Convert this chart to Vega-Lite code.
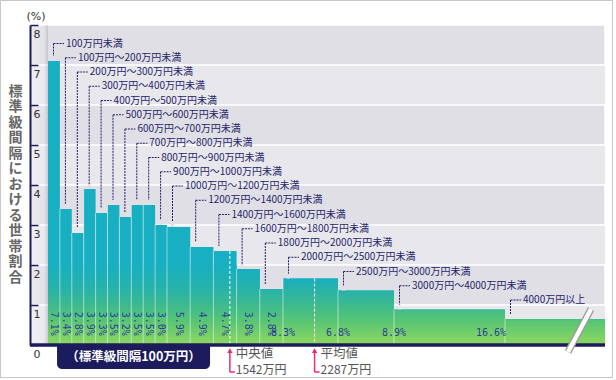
{
  "$schema": "https://vega.github.io/schema/vega-lite/v6.json",
  "width": 613,
  "height": 378,
  "autosize": {"type": "none"},
  "padding": 0,
  "background": "white",
  "config": {"view": {"stroke": "#c8c8c8", "strokeWidth": 2}},
  "data": {"values": [
    {"label": "100万円未満", "lo": 0, "hi": 100, "h": 7.1, "pct": "7.1%"},
    {"label": "100万円～200万円未満", "lo": 100, "hi": 200, "h": 3.4, "pct": "3.4%"},
    {"label": "200万円～300万円未満", "lo": 200, "hi": 300, "h": 2.8, "pct": "2.8%"},
    {"label": "300万円～400万円未満", "lo": 300, "hi": 400, "h": 3.9, "pct": "3.9%"},
    {"label": "400万円～500万円未満", "lo": 400, "hi": 500, "h": 3.3, "pct": "3.3%"},
    {"label": "500万円～600万円未満", "lo": 500, "hi": 600, "h": 3.5, "pct": "3.5%"},
    {"label": "600万円～700万円未満", "lo": 600, "hi": 700, "h": 3.2, "pct": "3.2%"},
    {"label": "700万円～800万円未満", "lo": 700, "hi": 800, "h": 3.5, "pct": "3.5%"},
    {"label": "800万円～900万円未満", "lo": 800, "hi": 900, "h": 3.5, "pct": "3.5%"},
    {"label": "900万円～1000万円未満", "lo": 900, "hi": 1000, "h": 3.0, "pct": "3.0%"},
    {"label": "1000万円～1200万円未満", "lo": 1000, "hi": 1200, "h": 2.95, "pct": "5.9%"},
    {"label": "1200万円～1400万円未満", "lo": 1200, "hi": 1400, "h": 2.45, "pct": "4.9%"},
    {"label": "1400万円～1600万円未満", "lo": 1400, "hi": 1600, "h": 2.35, "pct": "4.7%"},
    {"label": "1600万円～1800万円未満", "lo": 1600, "hi": 1800, "h": 1.9, "pct": "3.8%"},
    {"label": "1800万円～2000万円未満", "lo": 1800, "hi": 2000, "h": 1.4, "pct": "2.8%"},
    {"label": "2000万円～2500万円未満", "lo": 2000, "hi": 2500, "h": 1.66, "pct": "8.3%"},
    {"label": "2500万円～3000万円未満", "lo": 2500, "hi": 3000, "h": 1.36, "pct": "6.8%"},
    {"label": "3000万円～4000万円未満", "lo": 3000, "hi": 4000, "h": 0.89, "pct": "8.9%"},
    {"label": "4000万円以上", "lo": 4000, "hi": 4900, "h": 0.65, "pct": "16.6%"}
  ]},
  "transform": [{"window": [{"op": "row_number", "as": "i"}]}],
  "resolve": {"scale": {"y": "independent"}},
  "layer": [
    {
      "data": {"values": [{}]},
      "mark": {"type": "rect", "fill": "#e8e7ec"},
      "encoding": {
        "x": {"datum": -150, "type": "quantitative", "scale": {"domain": [-150, 0, 1000, 2000, 2500, 3000, 4000, 4900], "range": [30, 48, 167, 283, 338, 394, 505, 605], "nice": false, "zero": false}, "axis": null},
        "x2": {"datum": 4900},
        "y": {"datum": 0, "type": "quantitative", "scale": {"domain": [0, 8], "range": [345, 25], "nice": false, "zero": false},
          "axis": {"values": [0, 1, 2, 3, 4, 5, 6, 7, 8], "format": "d", "offset": -30, "zindex": 1, "grid": false,
            "domainColor": "#1c1c5c", "domainWidth": 2, "tickColor": "#1c1c5c", "tickSize": -8, "tickWidth": 1.5,
            "labelAlign": "left", "labelBaseline": "top", "labelPadding": 5, "labelOffset": 3, "labelFont": "DejaVu Sans", "labelFontSize": 11, "labelColor": "#333333", "labelOverlap": false, "labelFlush": false, "labelBound": false,
            "title": ["標", "準", "級", "間", "隔", "に", "お", "け", "る", "世", "帯", "割", "合"],
            "titleAngle": 0, "titleX": -15, "titleY": 91, "titleAlign": "center", "titleBaseline": "middle",
            "titleFont": "Noto Sans CJK JP", "titleFontSize": 14, "titleFontWeight": "bold", "titleColor": "#666666", "titleLineHeight": 15.5}},
        "y2": {"datum": 8}
      }
    },
    {
      "data": {"values": [{}]},
      "mark": {"type": "rect", "fill": "#e0dfe5", "stroke": "white", "strokeWidth": 1.5},
      "encoding": {
        "x": {"datum": -150, "type": "quantitative", "scale": {"domain": [-150, 0, 1000, 2000, 2500, 3000, 4000, 4900], "range": [30, 48, 167, 283, 338, 394, 505, 605], "nice": false, "zero": false}, "axis": null},
        "x2": {"datum": 4900},
        "y": {"datum": 1, "type": "quantitative", "scale": {"domain": [0, 8], "range": [345, 25], "nice": false, "zero": false}, "axis": null},
        "y2": {"datum": 2}
      }
    },
    {
      "data": {"values": [{}]},
      "mark": {"type": "rect", "fill": "#e0dfe5", "stroke": "white", "strokeWidth": 1.5},
      "encoding": {
        "x": {"datum": -150, "type": "quantitative", "scale": {"domain": [-150, 0, 1000, 2000, 2500, 3000, 4000, 4900], "range": [30, 48, 167, 283, 338, 394, 505, 605], "nice": false, "zero": false}, "axis": null},
        "x2": {"datum": 4900},
        "y": {"datum": 3, "type": "quantitative", "scale": {"domain": [0, 8], "range": [345, 25], "nice": false, "zero": false}, "axis": null},
        "y2": {"datum": 4}
      }
    },
    {
      "data": {"values": [{}]},
      "mark": {"type": "rect", "fill": "#e0dfe5", "stroke": "white", "strokeWidth": 1.5},
      "encoding": {
        "x": {"datum": -150, "type": "quantitative", "scale": {"domain": [-150, 0, 1000, 2000, 2500, 3000, 4000, 4900], "range": [30, 48, 167, 283, 338, 394, 505, 605], "nice": false, "zero": false}, "axis": null},
        "x2": {"datum": 4900},
        "y": {"datum": 5, "type": "quantitative", "scale": {"domain": [0, 8], "range": [345, 25], "nice": false, "zero": false}, "axis": null},
        "y2": {"datum": 6}
      }
    },
    {
      "data": {"values": [{}]},
      "mark": {"type": "rect", "fill": "#e0dfe5", "stroke": "white", "strokeWidth": 1.5},
      "encoding": {
        "x": {"datum": -150, "type": "quantitative", "scale": {"domain": [-150, 0, 1000, 2000, 2500, 3000, 4000, 4900], "range": [30, 48, 167, 283, 338, 394, 505, 605], "nice": false, "zero": false}, "axis": null},
        "x2": {"datum": 4900},
        "y": {"datum": 7, "type": "quantitative", "scale": {"domain": [0, 8], "range": [345, 25], "nice": false, "zero": false}, "axis": null},
        "y2": {"datum": 8}
      }
    },
    {
      "data": {"values": [{}]},
      "mark": {"type": "rect", "fill": {"gradient": "linear", "x1": 0, "y1": 0, "x2": 1, "y2": 0, "stops": [{"offset": 0, "color": "rgba(255,255,255,0.35)"}, {"offset": 0.72, "color": "rgba(255,255,255,0.12)"}, {"offset": 1, "color": "rgba(140,140,160,0.35)"}]}},
      "encoding": {
        "x": {"datum": -150, "type": "quantitative", "scale": {"domain": [-150, 0, 1000, 2000, 2500, 3000, 4000, 4900], "range": [30, 48, 167, 283, 338, 394, 505, 605], "nice": false, "zero": false}, "axis": null},
        "x2": {"datum": 0},
        "y": {"datum": 0, "type": "quantitative", "scale": {"domain": [0, 8], "range": [345, 25], "nice": false, "zero": false}, "axis": null},
        "y2": {"datum": 8}
      }
    },
    {
      "mark": {"type": "rule", "xOffset": 5.5, "stroke": "#1f1f6b", "strokeWidth": 1, "strokeDash": [2, 1]},
      "encoding": {
        "x": {"field": "lo", "type": "quantitative", "scale": {"domain": [-150, 0, 1000, 2000, 2500, 3000, 4000, 4900], "range": [30, 48, 167, 283, 338, 394, 505, 605], "nice": false, "zero": false}, "axis": null},
        "y": {"field": "i", "type": "quantitative", "scale": {"domain": [1, 19], "range": [43.5, 300], "nice": false, "zero": false}, "axis": null},
        "y2": {"datum": 21}
      }
    },
    {
      "mark": {"type": "rule", "xOffset": 5.5, "x2Offset": 16, "stroke": "#1f1f6b", "strokeWidth": 1, "strokeDash": [2, 1]},
      "encoding": {
        "x": {"field": "lo", "type": "quantitative", "scale": {"domain": [-150, 0, 1000, 2000, 2500, 3000, 4000, 4900], "range": [30, 48, 167, 283, 338, 394, 505, 605], "nice": false, "zero": false}, "axis": null},
        "x2": {"field": "lo"},
        "y": {"field": "i", "type": "quantitative", "scale": {"domain": [1, 19], "range": [43.5, 300], "nice": false, "zero": false}, "axis": null}
      }
    },
    {
      "mark": {"type": "text", "dx": 18, "align": "left", "baseline": "middle", "font": "Noto Sans CJK JP", "fontSize": 10, "fill": "#1f1f6b"},
      "encoding": {
        "x": {"field": "lo", "type": "quantitative", "scale": {"domain": [-150, 0, 1000, 2000, 2500, 3000, 4000, 4900], "range": [30, 48, 167, 283, 338, 394, 505, 605], "nice": false, "zero": false}, "axis": null},
        "y": {"field": "i", "type": "quantitative", "scale": {"domain": [1, 19], "range": [43.5, 300], "nice": false, "zero": false}, "axis": null},
        "text": {"field": "label"}
      }
    },
    {
      "mark": {"type": "rect", "fill": "#17afc1"},
      "encoding": {
        "x": {"field": "lo", "type": "quantitative", "scale": {"domain": [-150, 0, 1000, 2000, 2500, 3000, 4000, 4900], "range": [30, 48, 167, 283, 338, 394, 505, 605], "nice": false, "zero": false}, "axis": null},
        "x2": {"field": "hi"},
        "y": {"field": "h", "type": "quantitative", "scale": {"domain": [0, 8], "range": [345, 25], "nice": false, "zero": false}, "axis": null},
        "y2": {"datum": 0}
      }
    },
    {
      "mark": {"type": "rect", "fill": {"gradient": "linear", "x1": 0, "y1": 0, "x2": 0, "y2": 1, "stops": [{"offset": 0, "color": "#17afc1"}, {"offset": 1, "color": "#27b2a9"}]}},
      "encoding": {
        "x": {"field": "lo", "type": "quantitative", "scale": {"domain": [-150, 0, 1000, 2000, 2500, 3000, 4000, 4900], "range": [30, 48, 167, 283, 338, 394, 505, 605], "nice": false, "zero": false}, "axis": null},
        "x2": {"field": "hi"},
        "y": {"field": "h", "type": "quantitative", "scale": {"domain": [1.4, 2.0], "range": [289, 265], "clamp": true, "nice": false, "zero": false}, "axis": null},
        "y2": {"datum": 0}
      }
    },
    {
      "mark": {"type": "rect", "fill": {"gradient": "linear", "x1": 0, "y1": 0, "x2": 0, "y2": 1, "stops": [{"offset": 0, "color": "#27b2a9"}, {"offset": 1, "color": "#43bd88"}]}},
      "encoding": {
        "x": {"field": "lo", "type": "quantitative", "scale": {"domain": [-150, 0, 1000, 2000, 2500, 3000, 4000, 4900], "range": [30, 48, 167, 283, 338, 394, 505, 605], "nice": false, "zero": false}, "axis": null},
        "x2": {"field": "hi"},
        "y": {"field": "h", "type": "quantitative", "scale": {"domain": [0.9, 1.4], "range": [309, 289], "clamp": true, "nice": false, "zero": false}, "axis": null},
        "y2": {"datum": 0}
      }
    },
    {
      "mark": {"type": "rect", "fill": {"gradient": "linear", "x1": 0, "y1": 0, "x2": 0, "y2": 1, "stops": [{"offset": 0, "color": "#43bd88"}, {"offset": 1, "color": "#58c574"}]}},
      "encoding": {
        "x": {"field": "lo", "type": "quantitative", "scale": {"domain": [-150, 0, 1000, 2000, 2500, 3000, 4000, 4900], "range": [30, 48, 167, 283, 338, 394, 505, 605], "nice": false, "zero": false}, "axis": null},
        "x2": {"field": "hi"},
        "y": {"field": "h", "type": "quantitative", "scale": {"domain": [0.6, 0.9], "range": [321, 309], "clamp": true, "nice": false, "zero": false}, "axis": null},
        "y2": {"datum": 0}
      }
    },
    {
      "mark": {"type": "rect", "fill": {"gradient": "linear", "x1": 0, "y1": 0, "x2": 0, "y2": 1, "stops": [{"offset": 0, "color": "#58c574"}, {"offset": 1, "color": "#8fd85e"}]}},
      "encoding": {
        "x": {"field": "lo", "type": "quantitative", "scale": {"domain": [-150, 0, 1000, 2000, 2500, 3000, 4000, 4900], "range": [30, 48, 167, 283, 338, 394, 505, 605], "nice": false, "zero": false}, "axis": null},
        "x2": {"field": "hi"},
        "y": {"field": "h", "type": "quantitative", "scale": {"domain": [0, 0.6], "range": [345, 321], "clamp": true, "nice": false, "zero": false}, "axis": null},
        "y2": {"datum": 0}
      }
    },
    {
      "transform": [{"filter": "datum.lo > 0"}],
      "mark": {"type": "rule", "stroke": "white", "strokeOpacity": 0.5, "strokeWidth": 1},
      "encoding": {
        "x": {"field": "lo", "type": "quantitative", "scale": {"domain": [-150, 0, 1000, 2000, 2500, 3000, 4000, 4900], "range": [30, 48, 167, 283, 338, 394, 505, 605], "nice": false, "zero": false}, "axis": null},
        "y": {"field": "h", "type": "quantitative", "scale": {"domain": [0, 8], "range": [345, 25], "nice": false, "zero": false}, "axis": null},
        "y2": {"datum": 0}
      }
    },
    {
      "mark": {"type": "rule", "xOffset": 5.5, "yOffset": -5, "strokeWidth": 3},
      "encoding": {
        "x": {"field": "lo", "type": "quantitative", "scale": {"domain": [-150, 0, 1000, 2000, 2500, 3000, 4000, 4900], "range": [30, 48, 167, 283, 338, 394, 505, 605], "nice": false, "zero": false}, "axis": null},
        "y": {"field": "h", "type": "quantitative", "scale": {"domain": [0, 8], "range": [345, 25], "nice": false, "zero": false}, "axis": null},
        "y2": {"field": "h"},
        "stroke": {"condition": {"test": "floor(datum.h + 0.07) % 2 == 1", "value": "#e0dfe5"}, "value": "#e8e7ec"}
      }
    },
    {
      "transform": [{"filter": "datum.hi - datum.lo == 100"}],
      "mark": {"type": "text", "angle": 90, "align": "left", "baseline": "middle", "xOffset": 5.95, "font": "DejaVu Sans Mono", "fontSize": 10, "fill": "#2e3d99"},
      "encoding": {
        "x": {"field": "lo", "type": "quantitative", "scale": {"domain": [-150, 0, 1000, 2000, 2500, 3000, 4000, 4900], "range": [30, 48, 167, 283, 338, 394, 505, 605], "nice": false, "zero": false}, "axis": null},
        "y": {"datum": 0.83, "type": "quantitative", "scale": {"domain": [0, 8], "range": [345, 25], "nice": false, "zero": false}, "axis": null},
        "text": {"field": "pct"}
      }
    },
    {
      "transform": [{"filter": "datum.hi - datum.lo == 200"}],
      "mark": {"type": "text", "angle": 90, "align": "left", "baseline": "middle", "xOffset": 11.6, "font": "DejaVu Sans Mono", "fontSize": 10, "fill": "#2e3d99"},
      "encoding": {
        "x": {"field": "lo", "type": "quantitative", "scale": {"domain": [-150, 0, 1000, 2000, 2500, 3000, 4000, 4900], "range": [30, 48, 167, 283, 338, 394, 505, 605], "nice": false, "zero": false}, "axis": null},
        "y": {"datum": 0.83, "type": "quantitative", "scale": {"domain": [0, 8], "range": [345, 25], "nice": false, "zero": false}, "axis": null},
        "text": {"field": "pct"}
      }
    },
    {
      "transform": [{"filter": "datum.hi - datum.lo > 200 && datum.lo < 4000"}],
      "mark": {"type": "text", "align": "center", "baseline": "middle", "font": "DejaVu Sans Mono", "fontSize": 10, "fill": "#2e3d99"},
      "encoding": {
        "x": {"field": "lo", "type": "quantitative", "bin": "binned", "bandPosition": 0.5, "scale": {"domain": [-150, 0, 1000, 2000, 2500, 3000, 4000, 4900], "range": [30, 48, 167, 283, 338, 394, 505, 605], "nice": false, "zero": false}, "axis": null},
        "x2": {"field": "hi"},
        "y": {"datum": 0.3, "type": "quantitative", "scale": {"domain": [0, 8], "range": [345, 25], "nice": false, "zero": false}, "axis": null},
        "text": {"field": "pct"}
      }
    },
    {
      "transform": [{"filter": "datum.lo >= 4000"}],
      "mark": {"type": "text", "align": "center", "baseline": "middle", "dx": -14, "font": "DejaVu Sans Mono", "fontSize": 10, "fill": "#2e3d99"},
      "encoding": {
        "x": {"field": "lo", "type": "quantitative", "bin": "binned", "bandPosition": 0.5, "scale": {"domain": [-150, 0, 1000, 2000, 2500, 3000, 4000, 4900], "range": [30, 48, 167, 283, 338, 394, 505, 605], "nice": false, "zero": false}, "axis": null},
        "x2": {"field": "hi"},
        "y": {"datum": 0.3, "type": "quantitative", "scale": {"domain": [0, 8], "range": [345, 25], "nice": false, "zero": false}, "axis": null},
        "text": {"field": "pct"}
      }
    },
    {
      "data": {"name": "stats", "values": [
        {"name": "中央値", "value": 1542, "amount": "1542万円", "h": 2.35},
        {"name": "平均値", "value": 2287, "amount": "2287万円", "h": 1.66}
      ]},
      "layer": [
        {
          "mark": {"type": "rule", "stroke": "white", "strokeWidth": 1, "strokeDash": [3, 2]},
          "encoding": {
            "x": {"field": "value", "type": "quantitative", "scale": {"domain": [-150, 0, 1000, 2000, 2500, 3000, 4000, 4900], "range": [30, 48, 167, 283, 338, 394, 505, 605], "nice": false, "zero": false}, "axis": null},
            "y": {"field": "h", "type": "quantitative", "scale": {"domain": [0, 8], "range": [345, 25], "nice": false, "zero": false}, "axis": null},
            "y2": {"datum": 0}
          }
        },
        {
          "mark": {"type": "rule", "stroke": "#f0287a", "strokeWidth": 1.5},
          "encoding": {
            "x": {"field": "value", "type": "quantitative", "scale": {"domain": [-150, 0, 1000, 2000, 2500, 3000, 4000, 4900], "range": [30, 48, 167, 283, 338, 394, 505, 605], "nice": false, "zero": false}, "axis": null},
            "y": {"datum": -0.12, "type": "quantitative", "scale": {"domain": [0, 8], "range": [345, 25], "nice": false, "zero": false}, "axis": null},
            "y2": {"datum": -0.675}
          }
        },
        {
          "mark": {"type": "rule", "stroke": "#f0287a", "strokeWidth": 1.5, "x2Offset": 5},
          "encoding": {
            "x": {"field": "value", "type": "quantitative", "scale": {"domain": [-150, 0, 1000, 2000, 2500, 3000, 4000, 4900], "range": [30, 48, 167, 283, 338, 394, 505, 605], "nice": false, "zero": false}, "axis": null},
            "x2": {"field": "value"},
            "y": {"datum": -0.675, "type": "quantitative", "scale": {"domain": [0, 8], "range": [345, 25], "nice": false, "zero": false}, "axis": null}
          }
        },
        {
          "mark": {"type": "point", "shape": "triangle-up", "filled": true, "size": 28, "fill": "#f0287a", "opacity": 1, "strokeWidth": 0},
          "encoding": {
            "x": {"field": "value", "type": "quantitative", "scale": {"domain": [-150, 0, 1000, 2000, 2500, 3000, 4000, 4900], "range": [30, 48, 167, 283, 338, 394, 505, 605], "nice": false, "zero": false}, "axis": null},
            "y": {"datum": -0.14, "type": "quantitative", "scale": {"domain": [0, 8], "range": [345, 25], "nice": false, "zero": false}, "axis": null}
          }
        },
        {
          "mark": {"type": "text", "dx": 6, "align": "left", "baseline": "middle", "font": "Noto Sans CJK JP", "fontSize": 12.5, "fill": "#555555"},
          "encoding": {
            "x": {"field": "value", "type": "quantitative", "scale": {"domain": [-150, 0, 1000, 2000, 2500, 3000, 4000, 4900], "range": [30, 48, 167, 283, 338, 394, 505, 605], "nice": false, "zero": false}, "axis": null},
            "y": {"datum": -0.23, "type": "quantitative", "scale": {"domain": [0, 8], "range": [345, 25], "nice": false, "zero": false}, "axis": null},
            "text": {"field": "name"}
          }
        },
        {
          "mark": {"type": "text", "dx": 6, "align": "left", "baseline": "middle", "font": "Noto Sans CJK JP", "fontSize": 12, "fill": "#555555"},
          "encoding": {
            "x": {"field": "value", "type": "quantitative", "scale": {"domain": [-150, 0, 1000, 2000, 2500, 3000, 4000, 4900], "range": [30, 48, 167, 283, 338, 394, 505, 605], "nice": false, "zero": false}, "axis": null},
            "y": {"datum": -0.63, "type": "quantitative", "scale": {"domain": [0, 8], "range": [345, 25], "nice": false, "zero": false}, "axis": null},
            "text": {"field": "amount"}
          }
        }
      ]
    },
    {
      "data": {"values": [{"note": "（標準級間隔100万円）"}]},
      "layer": [
        {
          "mark": {"type": "rect", "fill": "#1c1c5c", "cornerRadiusBottomLeft": 5, "cornerRadiusBottomRight": 5},
          "encoding": {
            "x": {"datum": 76, "type": "quantitative", "scale": {"domain": [-150, 0, 1000, 2000, 2500, 3000, 4000, 4900], "range": [30, 48, 167, 283, 338, 394, 505, 605], "nice": false, "zero": false}, "axis": null},
            "x2": {"datum": 1371},
            "y": {"datum": 0, "type": "quantitative", "scale": {"domain": [0, 8], "range": [345, 25], "nice": false, "zero": false}, "axis": null},
            "y2": {"datum": -0.6}
          }
        },
        {
          "mark": {"type": "text", "align": "center", "baseline": "middle", "font": "Noto Sans CJK JP", "fontSize": 12.5, "fontWeight": "bold", "fill": "white"},
          "encoding": {
            "x": {"datum": 718, "type": "quantitative", "scale": {"domain": [-150, 0, 1000, 2000, 2500, 3000, 4000, 4900], "range": [30, 48, 167, 283, 338, 394, 505, 605], "nice": false, "zero": false}, "axis": null},
            "y": {"datum": -0.3, "type": "quantitative", "scale": {"domain": [0, 8], "range": [345, 25], "nice": false, "zero": false}, "axis": null},
            "text": {"field": "note"}
          }
        },
        {
          "mark": {"type": "rule", "stroke": "#1c1c5c", "strokeWidth": 3.5},
          "encoding": {
            "x": {"datum": -150, "type": "quantitative", "scale": {"domain": [-150, 0, 1000, 2000, 2500, 3000, 4000, 4900], "range": [30, 48, 167, 283, 338, 394, 505, 605], "nice": false, "zero": false}, "axis": null},
            "x2": {"datum": 4900},
            "y": {"datum": 0, "type": "quantitative", "scale": {"domain": [0, 8], "range": [345, 25], "nice": false, "zero": false}, "axis": null}
          }
        },
        {
          "mark": {"type": "rule", "stroke": "#9a9a9a", "strokeWidth": 7},
          "encoding": {
            "x": {"datum": 4567, "type": "quantitative", "scale": {"domain": [-150, 0, 1000, 2000, 2500, 3000, 4000, 4900], "range": [30, 48, 167, 283, 338, 394, 505, 605], "nice": false, "zero": false}, "axis": null},
            "x2": {"datum": 4774},
            "y": {"datum": -0.175, "type": "quantitative", "scale": {"domain": [0, 8], "range": [345, 25], "nice": false, "zero": false}, "axis": null},
            "y2": {"datum": 0.9}
          }
        },
        {
          "mark": {"type": "rule", "stroke": "white", "strokeWidth": 4.5},
          "encoding": {
            "x": {"datum": 4567, "type": "quantitative", "scale": {"domain": [-150, 0, 1000, 2000, 2500, 3000, 4000, 4900], "range": [30, 48, 167, 283, 338, 394, 505, 605], "nice": false, "zero": false}, "axis": null},
            "x2": {"datum": 4774},
            "y": {"datum": -0.175, "type": "quantitative", "scale": {"domain": [0, 8], "range": [345, 25], "nice": false, "zero": false}, "axis": null},
            "y2": {"datum": 0.9}
          }
        },
        {
          "mark": {"type": "text", "text": "(%)", "dx": 6, "dy": -8, "align": "center", "baseline": "middle", "font": "DejaVu Sans", "fontSize": 11, "fill": "#333333"},
          "encoding": {
            "x": {"datum": -150, "type": "quantitative", "scale": {"domain": [-150, 0, 1000, 2000, 2500, 3000, 4000, 4900], "range": [30, 48, 167, 283, 338, 394, 505, 605], "nice": false, "zero": false}, "axis": null},
            "y": {"datum": 8, "type": "quantitative", "scale": {"domain": [0, 8], "range": [345, 25], "nice": false, "zero": false}, "axis": null}
          }
        }
      ]
    }
  ]
}
